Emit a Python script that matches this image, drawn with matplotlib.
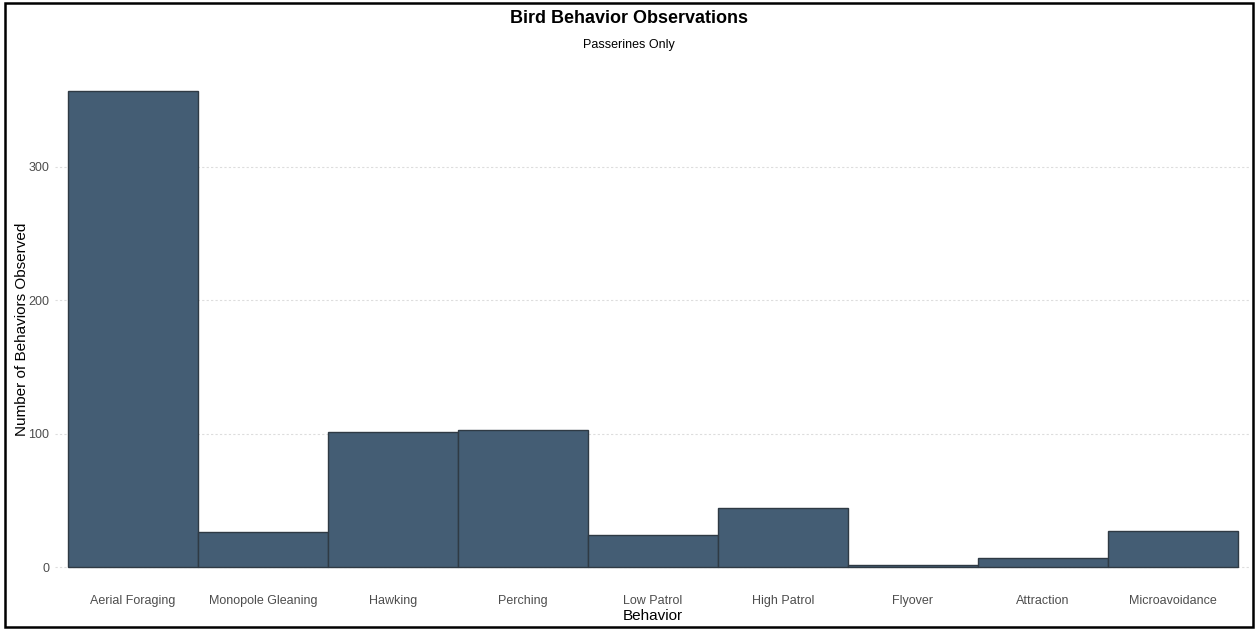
import matplotlib
matplotlib.use("Agg")
import matplotlib.pyplot as plt
from matplotlib.patches import Rectangle

behaviors = ["Aerial Foraging", "Monopole Gleaning", "Hawking", "Perching",
             "Low Patrol", "High Patrol", "Flyover", "Attraction", "Microavoidance"]
counts = [357, 26, 101, 103, 24, 44, 2, 7, 27]
y_ticks = [0, 100, 200, 300]

plt.rcParams['font.family'] = ['Liberation Sans', 'DejaVu Sans']

fig = plt.figure(figsize=(12.57, 6.3), dpi=100)
ax = fig.add_axes([0.0438, 0.0619, 0.9514, 0.8318])

x = range(len(behaviors))
ax.bar(x, counts, width=1.0, color="#445d74", edgecolor="#2f3a44", linewidth=1.0, zorder=2)

ax.set_xlim(-0.6, len(behaviors) - 0.4)
ax.set_ylim(-0.05 * max(counts), 1.05 * max(counts))
ax.set_xticks(list(x))
ax.set_xticklabels(behaviors)
ax.set_yticks(y_ticks)

ax.yaxis.grid(True, color="#dddddd", linestyle=(0, (2, 2)), linewidth=0.8, zorder=0)
ax.xaxis.grid(False)
for s in ax.spines.values():
    s.set_visible(False)
ax.tick_params(axis='both', length=0, labelsize=9, labelcolor="#4d4d4d")
ax.tick_params(axis='x', pad=3)
ax.tick_params(axis='y', pad=4)

ax.set_xlabel("Behavior", fontsize=11, labelpad=1)
ax.set_ylabel("Number of Behaviors Observed", fontsize=11, labelpad=0)

fig.text(0.5, 0.970, "Bird Behavior Observations", ha='center', va='center',
         fontsize=13, fontweight='bold')
fig.text(0.5, 0.929, "Passerines Only", ha='center', va='center', fontsize=9)

fig.patches.append(Rectangle((0.004, 0.004), 0.993, 0.991, transform=fig.transFigure,
                             fill=False, edgecolor="black", linewidth=1.8))

fig.savefig("out.png", dpi=100)
